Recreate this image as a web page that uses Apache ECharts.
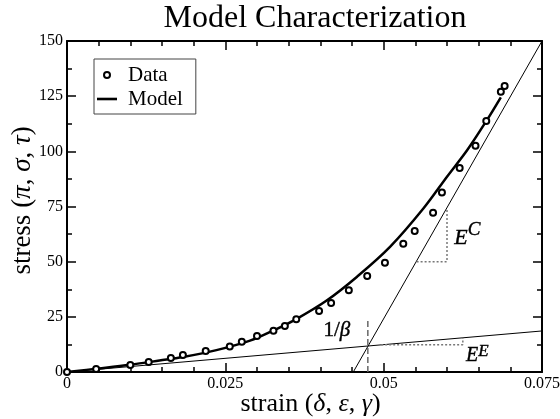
<!DOCTYPE html>
<html><head><meta charset="utf-8">
<script src="https://cdn.jsdelivr.net/npm/echarts@6/dist/echarts.min.js"></script>
<style>html,body{margin:0;padding:0;background:#fff}#c{width:560px;height:419px}</style>
</head><body><div id="c"></div>
<script>
// Measured data points
const dataStrain = [0, 0.0046, 0.0100, 0.0129, 0.0164, 0.0183, 0.0219, 0.0257, 0.0276, 0.0300, 0.0326, 0.0344, 0.0362, 0.0398, 0.0417, 0.0445, 0.0474, 0.0502, 0.0531, 0.0549, 0.0578, 0.0592, 0.0620, 0.0645, 0.0662, 0.0685, 0.0691];
const dataStress = [0, 1.4, 3.2, 4.5, 6.3, 7.7, 9.5, 11.5, 13.7, 16.3, 18.7, 20.8, 23.9, 27.6, 31.3, 37.0, 43.5, 49.5, 58.1, 63.9, 72.2, 81.4, 92.4, 102.5, 113.7, 127.0, 129.6];
// Model curve
const modelStrain = [0, 0.005, 0.010, 0.0146, 0.0183, 0.0236, 0.0289, 0.0325, 0.0362, 0.0410, 0.0458, 0.0510, 0.0563, 0.0600, 0.0632, 0.0662, 0.0685];
const modelStress = [0, 1.6, 3.3, 5.2, 6.8, 9.9, 14.2, 18.7, 24.0, 32.4, 43.2, 56.7, 74.2, 88.5, 100.6, 113.7, 124.5];
// Asymptote lines
const elasticStrain = [0, 0.075];
const elasticStress = [0, 18.6];
const compStrain = [0.0452, 0.075];
const compStress = [0, 150];
// 1/beta marker
const betaStrain = [0.0475, 0.0475];
const betaStress = [0, 24.3];
// Slope triangles
const slopeCStrain = [0.0552, 0.0600, 0.0600];
const slopeCStress = [50, 50, 74];
const slopeEStrain = [0.0496, 0.0625, 0.0625];
const slopeEStress = [12.3, 12.3, 15.5];
// Annotation anchors (data coords) and texts
const annoStrain = [0.0426, 0.0632, 0.0648];
const annoStress = [19.0, 62.1, 8.1];
const annoText = ['{n|1/}{b|β}', '{e|E}{s|C}', '{e2|E}{s2|E}'];
// Tick labels
const xTickLabels = ['0', '0.025', '0.05', '0.075'];
const yTickLabels = ['0', '25', '50', '75', '100', '125', '150'];

const zip = (a, b) => a.map((v, i) => [v, b[i]]);
const FF = 'Liberation Serif';

const tickStyle = {show: true, inside: true, length: 9, lineStyle: {color: '#000', width: 1.5}};
const minorStyle = {show: true, length: 5, lineStyle: {color: '#000', width: 1.5}};
const axLine = {show: true, onZero: false, lineStyle: {color: '#000', width: 2}};

const tok = (size, italic, lh, va) => Object.assign(
  {fontFamily: FF, fontSize: size, fontStyle: italic ? 'italic' : 'normal', fill: '#000', stroke: '#000', lineWidth: 0.4},
  lh ? {lineHeight: lh, verticalAlign: va} : {});
const annoRich = {
  n: tok(21, false), b: tok(21, true),
  e: tok(22, true, 28, 'bottom'), s: tok(19, true, 28, 'top'),
  e2: tok(20, true, 23, 'bottom'), s2: tok(17, true, 23, 'top')
};

const chart = echarts.init(document.getElementById('c'), null, {renderer: 'canvas'});
chart.setOption({
  animation: false,
  backgroundColor: '#fff',
  title: {
    text: 'Model Characterization', left: 315, top: 3, textAlign: 'center', padding: 0,
    textStyle: {fontFamily: FF, fontSize: 32, fontWeight: 'normal', color: '#000'}
  },
  grid: {left: 67, right: 18, top: 41, bottom: 47, containLabel: false, outerBoundsMode: 'none'},
  legend: {
    orient: 'vertical', left: 94, top: 59,
    borderColor: '#444', borderWidth: 1, padding: [5, 13, 4, 3],
    itemWidth: 20, itemHeight: 6, itemGap: 2,
    textStyle: {fontFamily: FF, fontSize: 21, color: '#000', lineHeight: 22, padding: [0, 0, 0, 6]},
    data: [
      {name: 'Data', icon: 'emptyCircle', itemStyle: {color: '#000', borderColor: '#000', borderWidth: 1}},
      {name: 'Model', icon: 'path://M0 0H20V2.6H0Z', itemStyle: {color: '#000'}}
    ]
  },
  xAxis: [{
    type: 'value', min: 0, max: 0.075, interval: 0.025, position: 'bottom',
    name: 'strain ({g|δ}, {g|ε}, {g|γ})', nameLocation: 'middle', nameGap: 19, nameMoveOverlap: false,
    nameTextStyle: {fontFamily: FF, fontSize: 26, color: '#000', padding: [0, 0, 0, 12],
      rich: {g: {fontFamily: FF, fontSize: 26, fontStyle: 'italic', color: '#000'}}},
    axisLine: axLine, axisTick: tickStyle, minorTick: Object.assign({splitNumber: 5}, minorStyle),
    splitLine: {show: false},
    axisLabel: {fontFamily: FF, fontSize: 16, color: '#000', margin: 4,
      formatter: v => xTickLabels[Math.round(v / 0.025)]}
  }, {
    type: 'value', min: 0, max: 0.075, interval: 0.025, position: 'top',
    axisLine: axLine, axisTick: tickStyle, minorTick: Object.assign({splitNumber: 5}, minorStyle),
    splitLine: {show: false}, axisLabel: {show: false}
  }],
  yAxis: [{
    type: 'value', min: 0, max: 150, interval: 25, position: 'left',
    name: 'stress ({g|π}, {g|σ}, {g|τ})', nameLocation: 'middle', nameGap: 31, nameRotate: 90, nameMoveOverlap: false,
    nameTextStyle: {fontFamily: FF, fontSize: 27, color: '#000', padding: [0, 0, 0, 12],
      rich: {g: {fontFamily: FF, fontSize: 27, fontStyle: 'italic', color: '#000'}}},
    axisLine: axLine, axisTick: tickStyle, minorTick: Object.assign({splitNumber: 2}, minorStyle),
    splitLine: {show: false},
    axisLabel: {fontFamily: FF, fontSize: 16, color: '#000', margin: 4,
      formatter: v => yTickLabels[Math.round(v / 25)]}
  }, {
    type: 'value', min: 0, max: 150, interval: 25, position: 'right',
    axisLine: axLine, axisTick: tickStyle, minorTick: Object.assign({splitNumber: 2}, minorStyle),
    splitLine: {show: false}, axisLabel: {show: false}
  }],
  series: [
    {name: 'E line', type: 'line', data: zip(elasticStrain, elasticStress), symbol: 'none',
      lineStyle: {color: '#000', width: 1}, silent: true, z: 2},
    {name: 'C line', type: 'line', data: zip(compStrain, compStress), symbol: 'none',
      lineStyle: {color: '#000', width: 1}, silent: true, z: 2},
    {name: 'beta', type: 'line', data: zip(betaStrain, betaStress), symbol: 'none',
      lineStyle: {color: '#666', width: 1.5, type: [6, 3]}, silent: true, z: 2},
    {name: 'slopeC', type: 'line', data: zip(slopeCStrain, slopeCStress), symbol: 'none',
      lineStyle: {color: '#777', width: 1.5, type: [2, 2]}, silent: true, z: 2},
    {name: 'slopeE', type: 'line', data: zip(slopeEStrain, slopeEStress), symbol: 'none',
      lineStyle: {color: '#777', width: 1.5, type: [2, 2]}, silent: true, z: 2},
    {name: 'Model', type: 'line', data: zip(modelStrain, modelStress), symbol: 'none', smooth: 0.35,
      lineStyle: {color: '#000', width: 2.5}, itemStyle: {color: '#000'}, z: 3},
    {name: 'Data', type: 'scatter', data: zip(dataStrain, dataStress), symbol: 'emptyCircle', symbolSize: 6,
      itemStyle: {color: '#000', borderColor: '#000', borderWidth: 1, opacity: 1}, z: 4},
    {name: 'anno', type: 'custom', silent: true, z: 5,
      data: zip(annoStrain, annoStress).map((p, i) => [p[0], p[1], i]),
      renderItem: (params, api) => {
        const pt = api.coord([api.value(0), api.value(1)]);
        return {
          type: 'text', x: pt[0], y: pt[1],
          style: {
            text: annoText[api.value(2)], rich: annoRich,
            align: 'center', verticalAlign: 'middle', fill: '#000', opacity: 1
          }
        };
      }
    }
  ]
});
</script></body></html>
